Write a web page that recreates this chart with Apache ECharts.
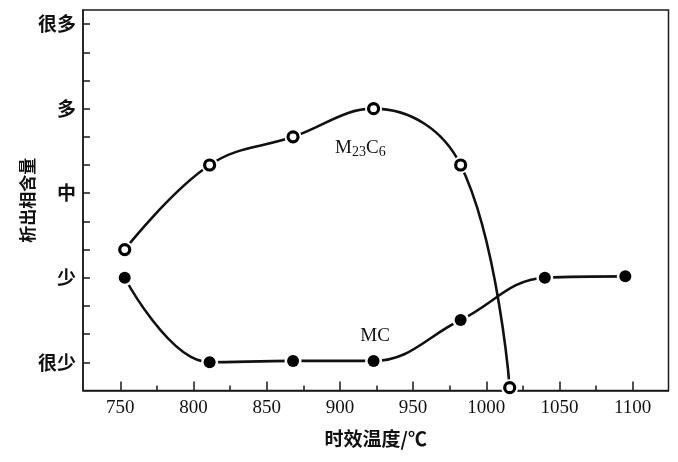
<!DOCTYPE html>
<html>
<head>
<meta charset="utf-8">
<script src="https://cdn.jsdelivr.net/npm/echarts@6/dist/echarts.min.js"></script>
<style>html,body{margin:0;padding:0;background:#fff;}#c{width:678px;height:462px;}</style>
</head>
<body>
<div id="c"></div>
<script>
const tempM23 = [753, 811, 868, 923, 982.5, 1016];
const amtM23 = [4, 7, 8, 9, 7, -0.9];
const tempMC = [753, 811, 868, 923, 982.5, 1040, 1095];
const amtMC = [3, 0, 0.05, 0.05, 1.5, 3, 3.05];
const xMajor = [750, 800, 850, 900, 950, 1000, 1050, 1100];
const xMinor = [775, 825, 875, 925, 975, 1025, 1075];
const yTicks = [0,1,2,3,4,5,6,7,8,9,10,11,12];
const yLabelVals = [0, 3, 6, 9, 12];
const yLabelText = ['很少', '少', '中', '多', '很多'];

const pairs = (xs, ys) => xs.map((x, i) => [x, ys[i]]);
const m23 = pairs(tempM23, amtM23);
const mc = pairs(tempMC, amtMC);

const cjk = '"Noto Sans CJK SC", sans-serif';
const serif = '"Liberation Serif", "DejaVu Serif", serif';
const chart = echarts.init(document.getElementById('c'));
chart.setOption({
  animation: false,
  grid: { left: 83, right: 9.5, top: 10, height: 380.5, show: true, borderColor: '#1a1a1a', borderWidth: 1.5, backgroundColor: 'transparent' },
  xAxis: [{
    type: 'value', min: 724.5, max: 1124.5,
    name: '时效温度/℃', nameLocation: 'middle', nameGap: 39,
    nameTextStyle: { fontFamily: cjk, fontSize: 19, fontWeight: 'bold', color: '#111' },
    axisLine: { show: true, onZero: false, lineStyle: { color: '#1a1a1a', width: 1.5 } },
    axisTick: { show: true, inside: true, length: 9, customValues: xMajor, lineStyle: { color: '#1a1a1a', width: 1.5 } },
    axisLabel: { customValues: xMajor, fontFamily: serif, fontSize: 19, color: '#111', margin: 8, formatter: v => String(v) },
    splitLine: { show: false }
  }, {
    type: 'value', min: 724.5, max: 1124.5, position: 'bottom',
    axisLine: { show: false, onZero: false },
    axisTick: { show: true, inside: true, length: 5, customValues: xMinor, lineStyle: { color: '#1a1a1a', width: 1.5 } },
    axisLabel: { show: false },
    splitLine: { show: false }
  }],
  yAxis: {
    type: 'value', min: -1, max: 12.5,
    name: '析出相含量', nameLocation: 'middle', nameGap: 47, nameRotate: 90, nameMoveOverlap: false,
    nameTextStyle: { fontFamily: cjk, fontSize: 17, fontWeight: 'bold', color: '#111' },
    axisLine: { show: true, onZero: false, lineStyle: { color: '#1a1a1a', width: 1.5 } },
    axisTick: { show: true, inside: true, length: 7, customValues: yTicks, lineStyle: { color: '#1a1a1a', width: 1.5 } },
    axisLabel: {
      customValues: yLabelVals, fontFamily: cjk, fontSize: 19, fontWeight: 'bold', color: '#111', margin: 7,
      formatter: v => yLabelText[yLabelVals.indexOf(v)] || ''
    },
    splitLine: { show: false }
  },
  series: [
    { type: 'line', data: m23, smooth: 0.4, showSymbol: false, lineStyle: { color: '#111', width: 2.6 }, z: 2,
      markPoint: { symbolSize: 0, data: [{ coord: [914, 7.6], label: { show: true, formatter: '{a|M}{b|23}{a|C}{b|6}', rich: {
        a: { fontFamily: serif, fontSize: 19, color: '#111', verticalAlign: 'bottom' },
        b: { fontFamily: serif, fontSize: 14, color: '#111', verticalAlign: 'bottom', padding: [0,0,-2,0] } } } }] } },
    { type: 'line', data: mc, smooth: 0.4, showSymbol: false, lineStyle: { color: '#111', width: 2.6 }, z: 2,
      markPoint: { symbolSize: 0, data: [{ coord: [924, 0.92], label: { show: true, formatter: 'MC', fontFamily: serif, fontSize: 19, color: '#111' } }] } },
    { type: 'scatter', data: m23.concat(mc), symbol: 'circle', symbolSize: 17, itemStyle: { color: '#fff', opacity: 1 }, z: 3, silent: true },
    { type: 'scatter', data: m23, symbol: 'circle', symbolSize: 10, itemStyle: { color: '#fff', borderColor: '#000', borderWidth: 3.2, opacity: 1 }, z: 4 },
    { type: 'scatter', data: mc, symbol: 'circle', symbolSize: 12, itemStyle: { color: '#000', opacity: 1 }, z: 4 }
  ]
});
</script>
</body>
</html>
